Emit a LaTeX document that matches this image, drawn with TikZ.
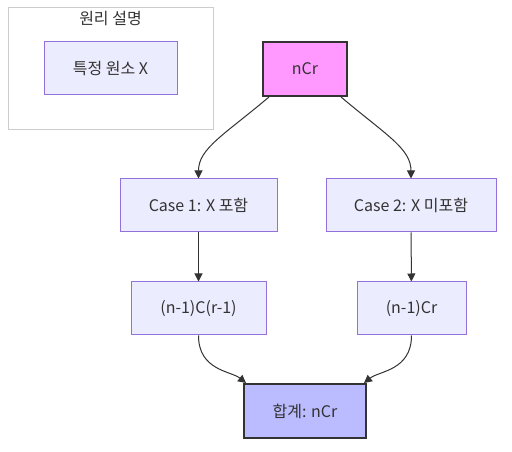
\documentclass[tikz,border=0pt]{standalone}
\usepackage{fontspec}
\setmainfont{Noto Sans CJK KR}
\usetikzlibrary{arrows.meta}
\definecolor{nodefill}{HTML}{ECECFF}
\definecolor{nodeline}{HTML}{9370DB}
\definecolor{pinkfill}{HTML}{FF99FF}
\definecolor{bluefill}{HTML}{BBBBFF}
\definecolor{darkline}{HTML}{333333}
\definecolor{clusterline}{HTML}{CCCCCC}
\tikzset{
  box/.style={draw=nodeline, fill=nodefill, line width=0.75pt, inner sep=0pt, font=\fontsize{12}{14}\selectfont, text=darkline},
  strong/.style={draw=darkline, line width=1.5pt, inner sep=0pt, font=\fontsize{12}{14}\selectfont, text=darkline},
  conn/.style={draw=darkline, line width=0.75pt, -{Triangle[length=6pt,width=6pt]}},
}
\begin{document}
\begin{tikzpicture}[x=0.75pt,y=-0.75pt]
\useasboundingbox (0,0) rectangle (512,452);
\fill[white] (0,0) rectangle (512,452);
% cluster
\node[draw=clusterline, fill=white, line width=0.75pt, minimum width=205*0.75pt, minimum height=122*0.75pt, inner sep=0pt] (cl) at (110.5,69) {};
\node[font=\fontsize{12}{14}\selectfont, text=darkline] (cllabel) at (110.5,19) {원리 설명};
\node[box, minimum width=133*0.75pt, minimum height=53*0.75pt] (x) at (110.5,68.5) {특정 원소 X};
% nodes
\node[strong, fill=pinkfill, minimum width=84*0.75pt, minimum height=54*0.75pt] (n) at (305,69) {nCr};
\node[box, minimum width=157*0.75pt, minimum height=53*0.75pt] (c1) at (198.5,205.5) {Case 1: X 포함};
\node[box, minimum width=170*0.75pt, minimum height=53*0.75pt] (c2) at (411,205.5) {Case 2: X 미포함};
\node[box, minimum width=135*0.75pt, minimum height=53*0.75pt] (r1) at (198.5,308.5) {(n-1)C(r-1)};
\node[box, minimum width=109*0.75pt, minimum height=53*0.75pt] (r2) at (411.5,308.5) {(n-1)Cr};
\node[strong, fill=bluefill, minimum width=122*0.75pt, minimum height=54*0.75pt] (s) at (305,411) {합계: nCr};
% connectors
\coordinate (nl) at ([xshift=7*0.75pt]n.south west);
\coordinate (nr) at ([xshift=-7*0.75pt]n.south east);
\coordinate (sl) at ([xshift=3*0.75pt]s.north west);
\coordinate (sr) at ([xshift=-3*0.75pt]s.north east);
\draw[conn] (nl) .. controls ++(-45,38) and ++(0,-30) .. (c1.north);
\draw[conn] (nr) .. controls ++(45,38) and ++(0,-30) .. (c2.north);
\draw[conn] (c1) -- (r1);
\draw[conn] (c2) -- (r2);
\draw[conn] (r1.south) .. controls ++(0,35) and ++(-15,-12) .. (sl);
\draw[conn] (r2.south) .. controls ++(0,35) and ++(15,-12) .. (sr);
\end{tikzpicture}
\end{document}
